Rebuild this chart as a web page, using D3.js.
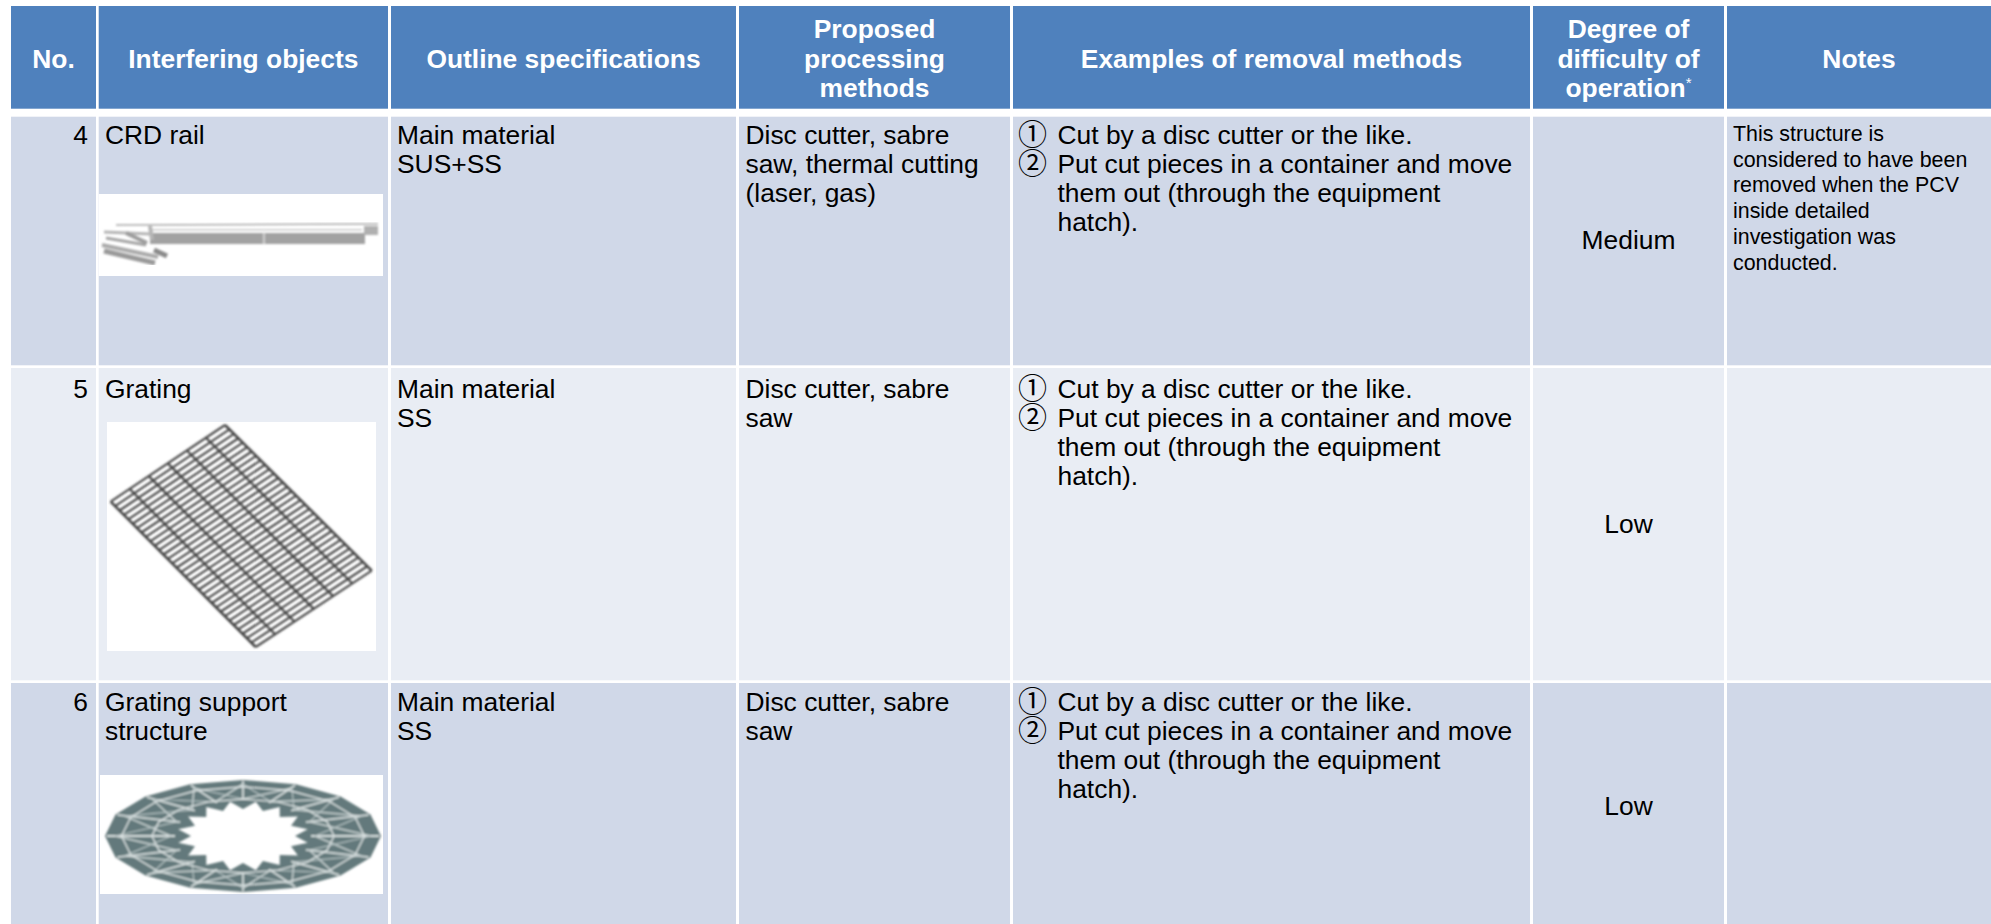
<!DOCTYPE html>
<html>
<head>
<meta charset="utf-8">
<script src="https://cdn.jsdelivr.net/npm/d3@7"></script>
<style>
  html, body { margin: 0; padding: 0; background: #fff; }
  svg { display: block; }
  text { font-family: "Liberation Sans", Arial, sans-serif; }
</style>
</head>
<body>
<div id="table"></div>
<script>
// table content
const headers = [
  ["No."],
  ["Interfering objects"],
  ["Outline specifications"],
  ["Proposed", "processing", "methods"],
  ["Examples of removal methods"],
  ["Degree of", "difficulty of", "operation"],
  ["Notes"]
];
const numbers = ["4", "5", "6"];
const objects = [["CRD rail"], ["Grating"], ["Grating support", "structure"]];
const specs = [
  ["Main material", "SUS+SS"],
  ["Main material", "SS"],
  ["Main material", "SS"]
];
const processing = [
  ["Disc cutter, sabre", "saw, thermal cutting", "(laser, gas)"],
  ["Disc cutter, sabre", "saw"],
  ["Disc cutter, sabre", "saw"]
];
const removalSteps = [
  { mark: "①", lines: ["Cut by a disc cutter or the like."] },
  { mark: "②", lines: ["Put cut pieces in a container and move", "them out (through the equipment", "hatch)."] }
];
const difficulty = ["Medium", "Low", "Low"];
const notes = [
  ["This structure is", "considered to have been", "removed when the PCV", "inside detailed", "investigation was", "conducted."],
  [],
  []
];

const width = 1991, height = 924;

// layout of the table
const colLeft = [11, 98.7, 391, 739, 1013, 1533, 1727];
const colRight = [96, 388, 736, 1010, 1530, 1724, 1991];
const rowTop = [116.7, 368, 683];
const rowBottom = [365.3, 680.3, 924];
const rowFill = ["#d0d8e8", "#e9edf4", "#d0d8e8"];
const rowBase = [144, 398, 711];
const difficultyY = [249, 533, 815];

const svg = d3.select("#table")
  .append("svg")
  .attr("width", width)
  .attr("height", height);

const defs = svg.append("defs");
[["soft", 0.9], ["softer", 1.2]].forEach(([id, dev]) => {
  defs.append("filter")
    .attr("id", id)
    .attr("x", "-5%").attr("y", "-5%").attr("width", "110%").attr("height", "110%")
    .append("feGaussianBlur")
    .attr("stdDeviation", dev);
});

// header cells
svg.selectAll(".head")
  .data(headers)
  .enter()
  .append("rect")
    .attr("class", "head")
    .attr("x", (d, i) => colLeft[i])
    .attr("y", 6)
    .attr("width", (d, i) => colRight[i] - colLeft[i])
    .attr("height", 102.7)
    .attr("fill", "#4f81bd");

// body cells
rowTop.forEach((top, r) => {
  svg.selectAll(".cell" + r)
    .data(colLeft)
    .enter()
    .append("rect")
      .attr("class", "cell" + r)
      .attr("x", (d) => d)
      .attr("y", top)
      .attr("width", (d, i) => colRight[i] - d)
      .attr("height", rowBottom[r] - top)
      .attr("fill", rowFill[r]);
});

function block(x, y, lines, size, step, anchor, fill, weight) {
  const t = svg.append("text")
    .attr("font-size", size)
    .attr("text-anchor", anchor || "start")
    .attr("fill", fill || "#000")
    .attr("font-weight", weight || "normal");
  lines.forEach((line, i) => {
    t.append("tspan").attr("x", x).attr("y", y + i * step).text(line);
  });
  return t;
}

// header text
headers.forEach((lines, i) => {
  const cx = (colLeft[i] + colRight[i]) / 2;
  const t = block(cx, lines.length > 1 ? 38 : 68, lines, 26.4, 29.5, "middle", "#fff", "bold");
  if (i === 5) {
    t.select("tspan:last-child").append("tspan")
      .attr("dy", -9).attr("font-size", 15).attr("font-weight", "normal").text("*");
  }
});

// body text
const bodySize = 26.4, bodyStep = 29;
rowBase.forEach((y, r) => {
  block(88, y, [numbers[r]], bodySize, bodyStep, "end");
  block(105, y, objects[r], bodySize, bodyStep);
  block(397, y, specs[r], bodySize, bodyStep);
  block(745.5, y, processing[r], bodySize, bodyStep);

  let row = 0;
  removalSteps.forEach((step) => {
    svg.append("text")
      .attr("x", 1018).attr("y", y + 1 + row * bodyStep)
      .attr("font-size", 29)
      .style("font-family", '"Noto Sans CJK JP"')
      .text(step.mark);
    block(1057.5, y + row * bodyStep, step.lines, bodySize, bodyStep);
    row += step.lines.length;
  });

  block(1733, y - 3, notes[r], 21.4, 25.7);
});

difficulty.forEach((d, r) => {
  block((colLeft[5] + colRight[5]) / 2, difficultyY[r], [d], bodySize, bodyStep, "middle");
});

// --- pictures of the objects ---
const pics = svg.append("g");

function whiteBox(x, y, w, h, filter) {
  pics.append("rect").attr("x", x).attr("y", y).attr("width", w).attr("height", h).attr("fill", "#fff");
  return pics.append("g").attr("filter", `url(#${filter})`).attr("fill", "none");
}
const line = d3.line();

// CRD rail
const rail = whiteBox(98.7, 194, 284.3, 82, "softer");
rail.append("rect").attr("x", 150).attr("y", 233).attr("width", 215).attr("height", 11).attr("fill", "#a2a2a2");
rail.append("rect").attr("x", 150).attr("y", 229).attr("width", 212).attr("height", 1.5).attr("fill", "#c8c8c8");
rail.append("rect").attr("x", 364).attr("y", 226).attr("width", 14).attr("height", 9).attr("fill", "#b0b0b0");
rail.append("path").attr("d", line([[116, 225], [378, 224]])).attr("stroke", "#a8a8a8").attr("stroke-width", 1.5);
rail.append("path").attr("d", line([[264, 230], [264, 245]])).attr("stroke", "#eee").attr("stroke-width", 1.2);
[
  [[104, 232], [150, 234], "#b5b5b5", 3],
  [[106, 238], [146, 245], "#a5a5a5", 3],
  [[126, 233], [147, 243], "#9c9c9c", 4],
  [[102, 245], [158, 257], "#aaa", 4],
  [[104, 251], [155, 263], "#9a9a9a", 5],
  [[154, 250], [167, 256], "#8a8a8a", 5],
  [[150, 226], [152, 240], "#b5b5b5", 4]
].forEach(([a, b, color, w]) => {
  rail.append("path").attr("d", line([a, b])).attr("stroke", color).attr("stroke-width", w);
});

// grating: bars between the four corners of the panel
const grating = whiteBox(107, 422, 269, 229, "soft");
const cTop = [225, 425], cLeft = [110.7, 501.7], cBottom = [255.7, 647], cRight = [371.7, 570.7];
const along = (a, b, t) => d3.interpolateArray(a, b)(t);
d3.range(0, 34).forEach((i) => {
  const t = i / 33;
  grating.append("path")
    .attr("d", line([along(cLeft, cBottom, t), along(cTop, cRight, t)]))
    .attr("stroke", "#4a4a4a").attr("stroke-width", 2.2);
});
d3.range(0, 7).forEach((i) => {
  const t = i / 6;
  grating.append("path")
    .attr("d", line([along(cLeft, cTop, t), along(cBottom, cRight, t)]))
    .attr("stroke", "#444").attr("stroke-width", i === 0 || i === 6 ? 2.6 : 2.2);
});

// grating support: polygon ring with spokes and a jagged hole
const ring = whiteBox(100, 775, 283, 119, "softer");
const cx = 243, cy = 836, n = 16;
const polar = (rx, ry, a) => [cx + rx * Math.cos(a), cy + ry * Math.sin(a)];
const angle = (i, count) => (i / count) * 2 * Math.PI;
const outer = d3.range(n).map((i) => polar(138, 56, angle(i, n)));
const inner = d3.range(n * 2).map((i) => {
  const big = i % 2 === 0;
  return polar(big ? 52 : 66, big ? 27 : 35, angle(i, n * 2));
});
ring.append("path")
  .attr("d", line(outer) + "Z" + line(inner) + "Z")
  .attr("fill", "#64797b").attr("fill-rule", "evenodd");
// light trusses across the ring
d3.range(n).forEach((i) => {
  const a = angle(i, n), b = angle(i + 1, n);
  ring.append("path").attr("d", line([polar(68, 36, a), polar(136, 55, a)]))
    .attr("stroke", "#d4dcdc").attr("stroke-width", 1.8);
  ring.append("path").attr("d", line([polar(72, 37, a), polar(128, 52, b)]))
    .attr("stroke", "#c8d2d2").attr("stroke-width", 1.5);
  ring.append("path").attr("d", line([polar(128, 52, a), polar(72, 37, b)]))
    .attr("stroke", "#b5c2c3").attr("stroke-width", 1.2);
});
[0.66, 0.88].forEach((k) => {
  ring.append("path")
    .attr("d", line(d3.range(n).map((i) => polar(138 * k, 56 * k, angle(i, n)))) + "Z")
    .attr("stroke", "#dbe2e2").attr("stroke-width", 1.4);
});
</script>
</body>
</html>
